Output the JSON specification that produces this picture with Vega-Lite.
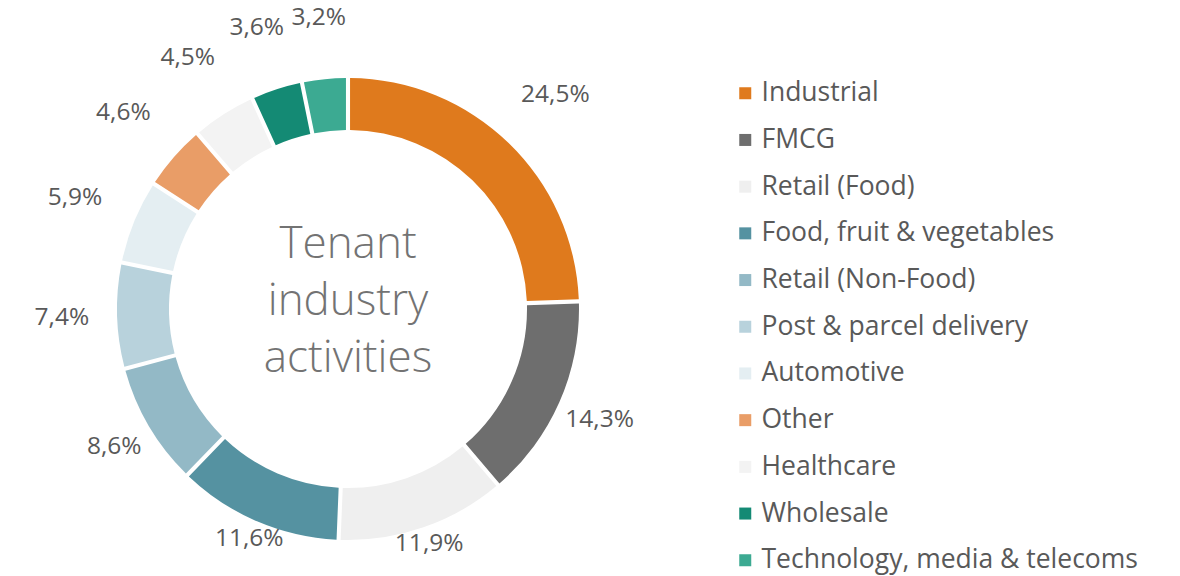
{
  "$schema": "https://vega.github.io/schema/vega-lite/v6.json",
  "autosize": {"type": "none"},
  "width": 600,
  "height": 534,
  "padding": {"left": 48, "top": 42, "right": 532, "bottom": 0},
  "background": "white",
  "config": {
    "view": {"stroke": null},
    "locale": {"number": {"decimal": ",", "thousands": ".", "grouping": [3], "currency": ["", " €"]}}
  },
  "data": {
    "values": [
      {"rank": 1, "industry": "Industrial", "share": 0.245},
      {"rank": 2, "industry": "FMCG", "share": 0.143},
      {"rank": 3, "industry": "Retail (Food)", "share": 0.119},
      {"rank": 4, "industry": "Food, fruit & vegetables", "share": 0.116},
      {"rank": 5, "industry": "Retail (Non-Food)", "share": 0.086},
      {"rank": 6, "industry": "Post & parcel delivery", "share": 0.074},
      {"rank": 7, "industry": "Automotive", "share": 0.059},
      {"rank": 8, "industry": "Other", "share": 0.046},
      {"rank": 9, "industry": "Healthcare", "share": 0.045},
      {"rank": 10, "industry": "Wholesale", "share": 0.036},
      {"rank": 11, "industry": "Technology, media & telecoms", "share": 0.032}
    ]
  },
  "encoding": {
    "theta": {"field": "share", "type": "quantitative", "stack": true},
    "order": {"field": "rank", "type": "quantitative"}
  },
  "layer": [
    {
      "mark": {"type": "arc", "outerRadius": 231, "innerRadius": 179, "padAngle": 0.014},
      "encoding": {
        "color": {
          "field": "industry",
          "type": "nominal",
          "sort": {"field": "rank"},
          "scale": {
            "domain": ["Industrial", "FMCG", "Retail (Food)", "Food, fruit & vegetables", "Retail (Non-Food)", "Post & parcel delivery", "Automotive", "Other", "Healthcare", "Wholesale", "Technology, media & telecoms"],
            "range": ["#DF7A1D", "#6E6E6E", "#EFEFEF", "#5592A1", "#93B9C6", "#B8D2DC", "#E4EEF2", "#E99D67", "#F3F3F3", "#148A74", "#3CAA92"]
          },
          "legend": {
            "title": null,
            "orient": "none",
            "legendX": 684,
            "legendY": 38,
            "symbolType": "square",
            "symbolSize": 144,
            "symbolStrokeWidth": 0,
            "labelFont": "Open Sans",
            "labelFontSize": 26.5,
            "labelColor": "#595959",
            "labelOffset": 3,
            "labelLimit": 0,
            "rowPadding": 19.7
          }
        }
      }
    },
    {
      "mark": {
        "type": "text",
        "radius": {"expr": "265 + 22*abs(sin(PI*(datum.share_start + datum.share_end)/1.001)) + 25*cos(PI*(datum.share_start + datum.share_end)/1.001)"},
        "font": "Open Sans",
        "fontSize": 24.5,
        "color": "#595959",
        "align": "center",
        "baseline": "middle"
      },
      "encoding": {
        "text": {"field": "share", "type": "quantitative", "format": ".1%"}
      }
    },
    {
      "data": {"values": [{"caption": "Tenant industry activities"}]},
      "mark": {"type": "text", "text": ["Tenant", "industry", "activities"], "font": "Open Sans", "fontWeight": 300, "fontSize": 44, "lineHeight": 57, "color": "#737373", "align": "center", "baseline": "middle", "dy": -64},
      "encoding": {"theta": null, "order": null}
    }
  ]
}
